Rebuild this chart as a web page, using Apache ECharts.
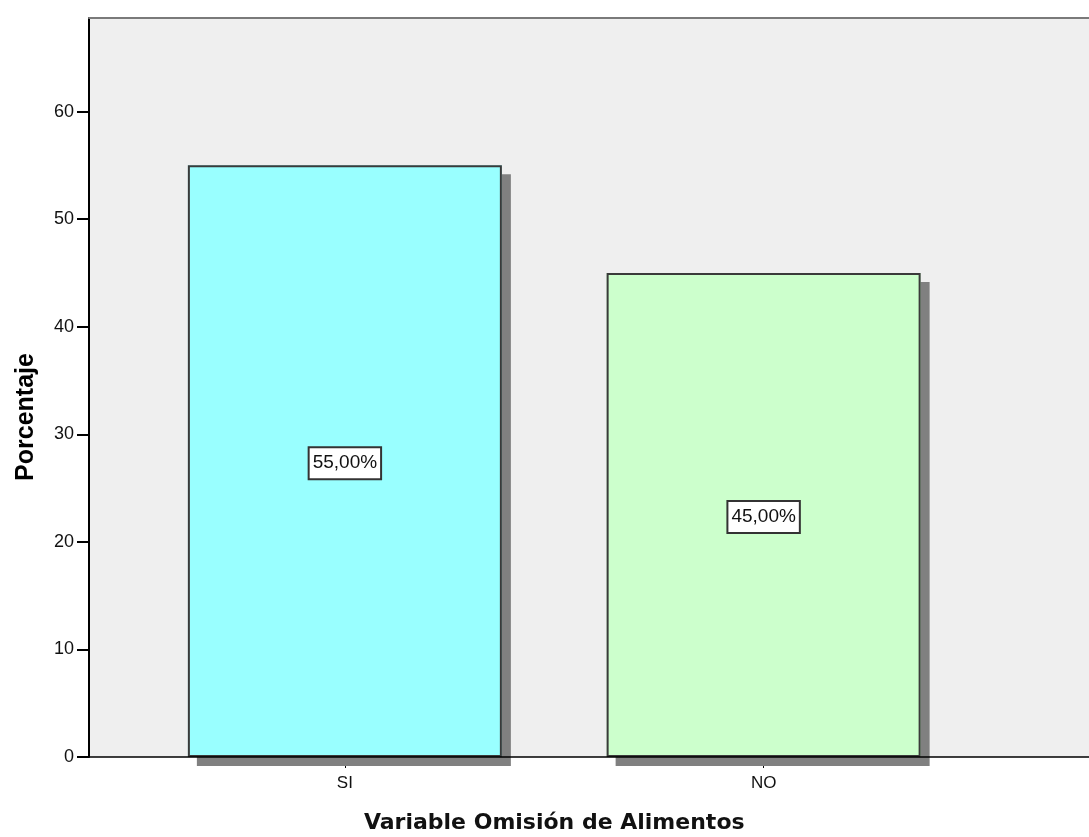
<!DOCTYPE html>
<html>
<head>
<meta charset="utf-8">
<script src="https://cdn.jsdelivr.net/npm/echarts@6/dist/echarts.min.js"></script>
<style>
  html, body { margin: 0; padding: 0; background: #ffffff; }
  #chart { width: 1089px; height: 837px; }
</style>
</head>
<body>
<div id="chart"></div>
<script>
// Categories and their percentages
const categories = ['SI', 'NO'];
const percentages = [55, 45];
const barColors = ['#99FFFF', '#CCFFCC'];

const yMin = 0;
const yMax = 68.7;
const yInterval = 10;

const xTitle = 'Variable Omisión de Alimentos';
const yTitle = 'Porcentaje';

function pct(v) {
  return v.toFixed(2).replace('.', ',') + '%';
}

const chart = echarts.init(document.getElementById('chart'), null, { renderer: 'canvas' });

chart.setOption({
  animation: false,
  backgroundColor: '#ffffff',
  grid: [
    // frame of the plot area
    {
      left: 89, right: 0, top: 18, bottom: 80, outerBoundsMode: 'none',
      show: true, backgroundColor: '#EFEFEF', borderWidth: 0
    },
    // area holding the two bars
    { left: 135.5, right: 116, top: 18, bottom: 80, outerBoundsMode: 'none' }
  ],
  xAxis: [
    {
      gridIndex: 0, type: 'value', min: 0, max: 1, position: 'bottom', z: 10,
      axisLine: { show: true, lineStyle: { color: '#000', width: 1.5 } },
      axisTick: { show: false }, axisLabel: { show: false }, splitLine: { show: false }
    },
    {
      gridIndex: 0, type: 'value', min: 0, max: 1, position: 'top', z: 10,
      axisLine: { show: true, lineStyle: { color: '#7a7a7a', width: 2 } },
      axisTick: { show: false }, axisLabel: { show: false }, splitLine: { show: false }
    },
    {
      gridIndex: 1, type: 'category', data: categories, position: 'bottom', z: 1,
      axisLine: { show: false },
      axisTick: { show: true, alignWithLabel: true, length: 11, lineStyle: { color: '#000' } },
      axisLabel: { margin: 18, fontSize: 17, color: '#111', fontFamily: 'Liberation Sans' },
      name: xTitle, nameLocation: 'middle', nameGap: 55,
      nameTextStyle: { fontSize: 22, fontWeight: 'bold', color: '#111', fontFamily: 'DejaVu Sans' },
      splitLine: { show: false }
    }
  ],
  yAxis: [
    {
      gridIndex: 0, type: 'value', min: yMin, max: yMax, interval: yInterval, z: 10,
      axisLine: { show: true, lineStyle: { color: '#000', width: 2 } },
      axisTick: { show: true, length: 12, lineStyle: { color: '#000', width: 2 } },
      axisLabel: {
        margin: 15, fontSize: 18, color: '#111', fontFamily: 'Liberation Sans',
        showMaxLabel: false
      },
      splitLine: { show: false }
    },
    {
      gridIndex: 1, type: 'value', min: yMin, max: yMax, interval: yInterval, show: false,
      splitLine: { show: false }
    }
  ],
  graphic: [
    {
      type: 'text', x: 26, y: 417, rotation: Math.PI / 2,
      style: {
        text: yTitle, fill: '#000', font: 'bold 25px "Liberation Sans"',
        align: 'center', verticalAlign: 'middle'
      }
    }
  ],
  series: [
    // filled bars with their drop shadow
    {
      type: 'bar', xAxisIndex: 2, yAxisIndex: 1, clip: false, barWidth: 314, barGap: '-100%',
      data: percentages.map((v, i) => ({ value: v, itemStyle: { color: barColors[i] } })),
      itemStyle: {
        borderWidth: 0,
        shadowColor: '#808080', shadowOffsetX: 9, shadowOffsetY: 9, shadowBlur: 0
      },
      silent: true
    },
    // outlines and value labels
    {
      type: 'bar', xAxisIndex: 2, yAxisIndex: 1, clip: false, barWidth: 314, barGap: '-100%',
      data: percentages,
      itemStyle: { color: 'rgba(0,0,0,0)', borderColor: '#3a3a3a', borderWidth: 2 },
      label: {
        show: true, position: 'inside', offset: [0, 2],
        formatter: p => pct(p.value),
        fontSize: 19, color: '#111', fontFamily: 'Liberation Sans',
        backgroundColor: '#fff', borderColor: '#333', borderWidth: 2,
        padding: [6, 3, 5, 3]
      }
    }
  ]
});
</script>
</body>
</html>
